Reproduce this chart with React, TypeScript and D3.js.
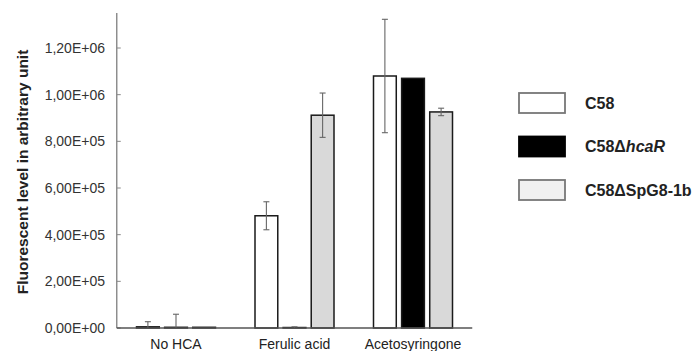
import React from "react";
import * as d3 from "d3";

// Treatments on the x axis
const categories = ["No HCA", "Ferulic acid", "Acetosyringone"];
// Strains shown as grouped bars
const strains = ["C58", "C58ΔhcaR", "C58ΔSpG8-1b"];
// Mean fluorescence per strain, one value per treatment
const c58Values = [5000, 481000, 1080000];
const hcaRValues = [3000, 2000, 1070000];
const spg8Values = [3000, 912000, 926000];
// Standard deviations (0 = no bar drawn)
const c58Errors = [22000, 60000, 243000];
const hcaRErrors = [56000, 3000, 0];
const spg8Errors = [0, 95000, 16000];
// Y tick values and their labels
const yTicks = [0, 200000, 400000, 600000, 800000, 1000000, 1200000];
const yTickLabels = ["0,00E+00", "2,00E+05", "4,00E+05", "6,00E+05", "8,00E+05", "1,00E+06", "1,20E+06"];

const fills = ["#ffffff", "#000000", "#d9d9d9"];
const legendFills = ["#ffffff", "#000000", "#f0f0f0"];

export default function App() {
  const width = 694;
  const height = 351;
  const x0 = 116.75;
  const x1 = 472.25;
  const yBase = 328;
  const yTop = 13;

  const y = d3.scaleLinear().domain([0, 1350000]).range([yBase, yTop]);
  const xBand = d3.scaleBand<string>().domain(categories).range([x0, x1]).paddingInner(0).paddingOuter(0);
  const xInner = d3
    .scaleBand<string>()
    .domain(strains)
    .range([0, 79])
    .paddingInner(0.19)
    .paddingOuter(0);

  const series = [
    { name: strains[0], values: c58Values, errors: c58Errors, fill: fills[0] },
    { name: strains[1], values: hcaRValues, errors: hcaRErrors, fill: fills[1] },
    { name: strains[2], values: spg8Values, errors: spg8Errors, fill: fills[2] },
  ];

  const font = "'Liberation Sans', Arial, sans-serif";

  return (
    <svg
      width={width}
      height={height}
      style={{ position: "absolute", left: 0, top: 0, background: "#fff" }}
      fontFamily={font}
    >
      <rect width={width} height={height} fill="#fff" />
      {/* Y axis title */}
      <text
        transform={`translate(28,172) rotate(-90)`}
        textAnchor="middle"
        fontSize={15.5}
        fontWeight="bold"
        fill="#222"
      >
        Fluorescent level in arbitrary unit
      </text>

      {/* Y ticks */}
      {yTicks.map((t, i) => (
        <g key={t}>
          <line x1={x0} x2={x0 + 4} y1={y(t)} y2={y(t)} stroke="#888" strokeWidth={1} />
          <text x={105} y={y(t)} dy="0.35em" textAnchor="end" fontSize={14} fill="#333">
            {yTickLabels[i]}
          </text>
        </g>
      ))}

      {/* Bars */}
      {categories.map((c, ci) => {
        const gx = (xBand(c) as number) + (xBand.bandwidth() - 79) / 2;
        return (
          <g key={c}>
            {series.map((s) => {
              const bx = gx + (xInner(s.name) as number);
              const bw = xInner.bandwidth();
              const v = s.values[ci];
              const top = y(v);
              return (
                <rect
                  key={s.name}
                  x={bx}
                  y={top}
                  width={bw}
                  height={yBase - top}
                  fill={s.fill}
                  stroke="#1a1a1a"
                  strokeWidth={1.5}
                />
              );
            })}
          </g>
        );
      })}

      {/* Error bars */}
      {categories.map((c, ci) => {
        const gx = (xBand(c) as number) + (xBand.bandwidth() - 79) / 2;
        return (
          <g key={c + "-err"}>
            {series.map((s) => {
              const e = s.errors[ci];
              if (!e) return null;
              const cx = gx + (xInner(s.name) as number) + xInner.bandwidth() / 2;
              const v = s.values[ci];
              const hi = y(v + e);
              const lo = y(Math.max(0, v - e));
              return (
                <g key={s.name} stroke="#666" strokeWidth={1.1}>
                  <line x1={cx} x2={cx} y1={hi} y2={lo} />
                  <line x1={cx - 3} x2={cx + 3} y1={hi} y2={hi} />
                  {v - e > 0 && <line x1={cx - 3} x2={cx + 3} y1={lo} y2={lo} />}
                </g>
              );
            })}
          </g>
        );
      })}

      {/* Axes */}
      <line x1={x0} x2={x0} y1={yTop} y2={yBase} stroke="#888" strokeWidth={1.4} />
      <line x1={x0} x2={x1} y1={yBase} y2={yBase} stroke="#555" strokeWidth={1.4} />

      {/* Category labels */}
      {categories.map((c) => (
        <text
          key={c}
          x={(xBand(c) as number) + xBand.bandwidth() / 2}
          y={349}
          textAnchor="middle"
          fontSize={14}
          fill="#222"
        >
          {c}
        </text>
      ))}

      {/* Legend */}
      {strains.map((s, i) => {
        const ly = 93 + i * 43.5;
        return (
          <g key={s}>
            <rect x={519} y={ly} width={46} height={20} fill={legendFills[i]} stroke={i === 1 ? "#000" : "#777"} strokeWidth={1.8} />
            <text x={585} y={ly + 10} dy="0.35em" fontSize={16} fontWeight="bold" fill="#222">
              {i === 0 && "C58"}
              {i === 1 && (
                <>
                  C58Δ<tspan fontStyle="italic">hcaR</tspan>
                </>
              )}
              {i === 2 && "C58ΔSpG8-1b"}
            </text>
          </g>
        );
      })}
    </svg>
  );
}
